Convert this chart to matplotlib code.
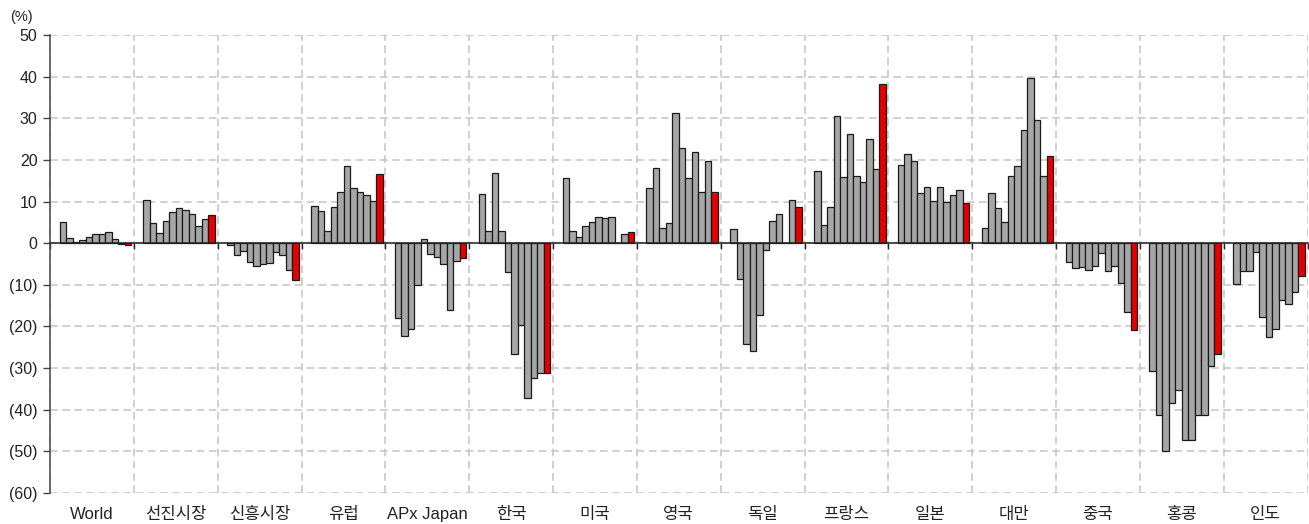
import matplotlib
matplotlib.use("Agg")
import matplotlib.pyplot as plt
import numpy as np
from matplotlib.ticker import FuncFormatter

plt.rcParams['font.family'] = ['Liberation Sans', 'Noto Sans CJK KR', 'DejaVu Sans']

categories = ['World', '선진시장', '신흥시장', '유럽', 'APx Japan', '한국', '미국',
              '영국', '독일', '프랑스', '일본', '대만', '중국', '홍콩', '인도']

world     = [5.2, 1.2, 0.3, 0.7, 1.4, 2.1, 2.1, 2.7, 0.9, -0.1, -0.4]
developed = [10.3, 4.9, 2.4, 5.4, 7.6, 8.5, 8.0, 7.0, 4.1, 5.8, 6.8]
emerging  = [-0.4, -2.8, -1.8, -4.4, -5.4, -5.0, -4.8, -2.0, -2.8, -6.4, -8.8]
europe    = [9.0, 7.8, 3.0, 8.6, 12.4, 18.5, 13.3, 12.3, 11.5, 10.2, 16.5]
apxjapan  = [-18.0, -22.4, -20.6, -10.0, 0.9, -2.5, -3.3, -5.0, -16.0, -4.2, -3.5]
korea     = [11.9, 3.0, 16.8, 3.0, -6.9, -26.5, -19.6, -37.3, -32.4, -31.2, -31.2]
usa       = [15.6, 3.0, 1.6, 4.2, 5.1, 6.2, 6.0, 6.2, 0.1, 2.2, 2.8]
uk        = [13.3, 18.1, 3.6, 4.8, 31.3, 22.8, 15.6, 21.9, 12.2, 19.7, 12.3]
germany   = [3.4, -8.7, -24.2, -26.0, -17.3, -1.7, 5.3, 6.9, 0.0, 10.4, 8.6]
france    = [17.4, 4.3, 8.7, 30.5, 16.0, 26.2, 16.2, 14.7, 25.0, 17.7, 38.2]
japan     = [18.7, 21.4, 19.8, 12.0, 13.5, 10.2, 13.5, 9.8, 11.6, 12.8, 9.7]
taiwan    = [3.6, 12.1, 8.5, 5.0, 16.1, 18.6, 27.2, 39.6, 29.7, 16.1, 21.0]
china     = [-4.4, -6.0, -5.8, -6.4, -5.6, -2.4, -6.6, -5.4, -9.6, -16.5, -20.8]
hongkong  = [-30.7, -41.2, -50.0, -38.4, -35.3, -47.2, -47.2, -41.2, -41.2, -29.5, -26.6]
india     = [-9.7, -6.8, -6.8, -2.0, -17.7, -22.6, -20.6, -13.7, -14.5, -11.7, -7.9]

series = [world, developed, emerging, europe, apxjapan, korea, usa, uk,
          germany, france, japan, taiwan, china, hongkong, india]

yticks = list(range(-60, 51, 10))

fig = plt.figure(figsize=(13.09, 5.24), dpi=100)
W, H = 1309, 524
ax = fig.add_axes([50 / W, (H - 493) / H, (1307.5 - 50) / W, (493 - 35) / H])

bw = 0.0775
off = 0.115
for g, vals in enumerate(series):
    n = len(vals)
    xs = g + off + bw * (np.arange(n) + 0.5)
    colors = ['#a6a6a6'] * (n - 1) + ['#e60000']
    ax.bar(xs, vals, width=bw, color=colors, edgecolor='#1a1a1a',
           linewidth=0.9, zorder=3)

ax.set_xlim(0, len(categories))
ax.set_ylim(-60, 50)

# zero axis with ticks at group boundaries
ax.spines['bottom'].set_position(('data', 0))
ax.spines['bottom'].set_color('#222222')
ax.spines['bottom'].set_linewidth(1.1)
ax.spines['bottom'].set_zorder(4)
ax.spines['top'].set_visible(False)
ax.spines['right'].set_visible(False)
ax.spines['left'].set_color('#444444')
ax.spines['left'].set_linewidth(1.1)
ax.set_xticks(np.arange(len(categories) + 1))
ax.tick_params(axis='x', which='major', direction='out', length=4, width=1,
               color='#222222', labelbottom=False)

ax.set_yticks(yticks)
ax.yaxis.set_major_formatter(FuncFormatter(
    lambda v, p: f"({abs(int(v))})" if v < 0 else f"{int(v)}"))
ax.tick_params(axis='y', direction='out', length=5, width=1, color='#444444',
               labelsize=11.5, labelcolor='#222222', pad=4)

ax.grid(True, which='major', axis='both', linestyle=(0, (5, 3)),
        color='#c4c4c4', linewidth=1.1, zorder=0)
ax.set_axisbelow(True)

sec = ax.secondary_xaxis('bottom')
sec.set_xticks(np.arange(len(categories)) + 0.5)
sec.set_xticklabels(categories)
sec.tick_params(length=0, labelsize=12, labelcolor='#222222', pad=10)
sec.spines['bottom'].set_visible(False)

fig.text(10 / W, 1 - 17 / H, '(%)', fontsize=10.5, color='#222222',
         ha='left', va='center')

fig.savefig('out.png', dpi=100)
